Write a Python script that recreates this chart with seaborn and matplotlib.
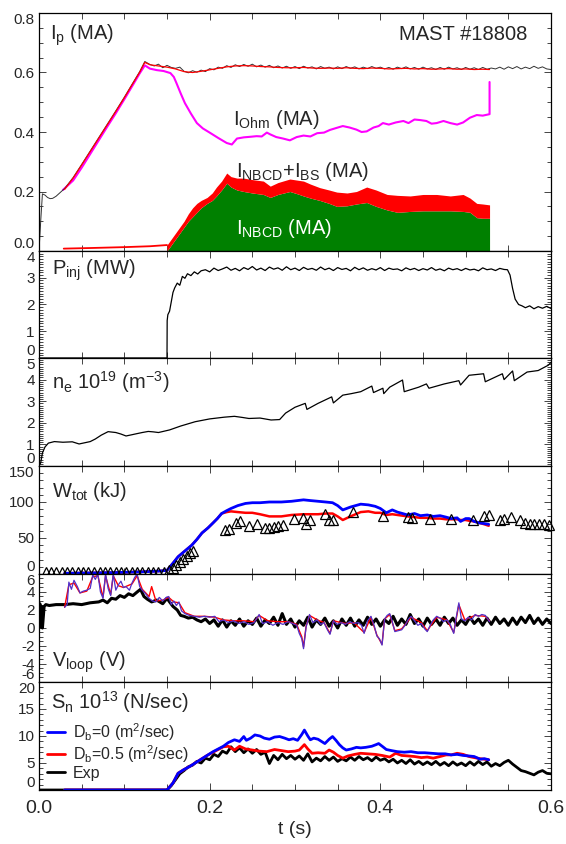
import numpy as np
import pandas as pd
import seaborn as sns
import matplotlib.pyplot as plt
from matplotlib.ticker import MultipleLocator, FormatStrFormatter

# ---- panel 1: plasma current and its parts (MA) ----
ip_exp_t = [0.000, 0.002, 0.004, 0.007, 0.010, 0.013, 0.016, 0.020, 0.025, 0.030,
            0.040, 0.050, 0.060, 0.070, 0.080, 0.090, 0.100, 0.110, 0.118, 0.124,
            0.130, 0.135, 0.140, 0.145, 0.150, 0.155, 0.160, 0.165, 0.170, 0.175,
            0.180, 0.185, 0.190, 0.195, 0.200, 0.205, 0.210, 0.215, 0.220, 0.225,
            0.230, 0.235, 0.240, 0.245, 0.250, 0.255, 0.260, 0.265, 0.270, 0.275,
            0.280, 0.285, 0.290, 0.295, 0.300, 0.305, 0.310, 0.315, 0.320, 0.325,
            0.330, 0.335, 0.340, 0.345, 0.350, 0.355, 0.360, 0.365, 0.370, 0.375,
            0.380, 0.385, 0.390, 0.395, 0.400, 0.405, 0.410, 0.415, 0.420, 0.425,
            0.430, 0.435, 0.440, 0.445, 0.450, 0.455, 0.460, 0.465, 0.470, 0.475,
            0.480, 0.485, 0.490, 0.495, 0.500, 0.505, 0.510, 0.515, 0.520, 0.525,
            0.530, 0.535, 0.540, 0.545, 0.550, 0.555, 0.560, 0.565, 0.570, 0.575,
            0.580, 0.585, 0.590, 0.595, 0.600]
ip_exp = [0.000, 0.100, 0.192, 0.188, 0.180, 0.176, 0.177, 0.184, 0.197, 0.210,
          0.247, 0.291, 0.336, 0.381, 0.426, 0.471, 0.517, 0.565, 0.603, 0.637,
          0.627, 0.622, 0.628, 0.616, 0.624, 0.617, 0.614, 0.618, 0.604, 0.599,
          0.606, 0.601, 0.608, 0.603, 0.613, 0.609, 0.618, 0.614, 0.623, 0.617,
          0.626, 0.620, 0.627, 0.621, 0.628, 0.619, 0.625, 0.618, 0.624, 0.616,
          0.622, 0.615, 0.621, 0.614, 0.620, 0.613, 0.621, 0.615, 0.619, 0.612,
          0.620, 0.614, 0.618, 0.612, 0.619, 0.613, 0.620, 0.614, 0.619, 0.612,
          0.618, 0.613, 0.620, 0.614, 0.618, 0.612, 0.617, 0.611, 0.618, 0.613,
          0.619, 0.612, 0.617, 0.611, 0.618, 0.612, 0.616, 0.610, 0.617, 0.611,
          0.618, 0.612, 0.616, 0.610, 0.617, 0.611, 0.616, 0.610, 0.617, 0.611,
          0.615, 0.612, 0.618, 0.611, 0.619, 0.613, 0.620, 0.612, 0.618, 0.613,
          0.621, 0.614, 0.619, 0.612, 0.610]

ip_sim_t = [0.030, 0.040, 0.050, 0.060, 0.070, 0.080, 0.090, 0.100, 0.110, 0.118,
            0.124, 0.130, 0.140, 0.150, 0.160, 0.170, 0.180, 0.190, 0.200, 0.210,
            0.220, 0.230, 0.240, 0.250, 0.260, 0.270, 0.280, 0.290, 0.300, 0.310,
            0.320, 0.330, 0.340, 0.350, 0.360, 0.370, 0.380, 0.390, 0.400, 0.410,
            0.420, 0.430, 0.440, 0.450, 0.460, 0.470, 0.480, 0.490, 0.500, 0.510,
            0.520, 0.528]
ip_sim = [0.207, 0.245, 0.289, 0.334, 0.379, 0.424, 0.469, 0.515, 0.563, 0.601,
          0.634, 0.626, 0.622, 0.618, 0.612, 0.603, 0.600, 0.604, 0.609, 0.614,
          0.619, 0.622, 0.623, 0.622, 0.620, 0.619, 0.617, 0.616, 0.616, 0.617,
          0.615, 0.614, 0.615, 0.614, 0.616, 0.614, 0.613, 0.615, 0.614, 0.612,
          0.613, 0.614, 0.612, 0.613, 0.611, 0.612, 0.613, 0.611, 0.612, 0.610,
          0.611, 0.610]

iohm_t = [0.028, 0.040, 0.050, 0.060, 0.070, 0.080, 0.090, 0.100, 0.110, 0.118,
          0.124, 0.130, 0.138, 0.146, 0.154, 0.158, 0.161, 0.166, 0.171, 0.178,
          0.185, 0.192, 0.200, 0.210, 0.220, 0.226, 0.232, 0.240, 0.248, 0.255,
          0.261, 0.267, 0.271, 0.278, 0.286, 0.294, 0.302, 0.310, 0.318, 0.326,
          0.334, 0.341, 0.349, 0.356, 0.364, 0.372, 0.378, 0.384, 0.392, 0.398,
          0.403, 0.410, 0.418, 0.427, 0.433, 0.440, 0.447, 0.454, 0.460, 0.466,
          0.474, 0.482, 0.490, 0.497, 0.505, 0.513, 0.520, 0.528, 0.528]
iohm = [0.205, 0.237, 0.280, 0.326, 0.372, 0.418, 0.463, 0.510, 0.558, 0.597,
        0.624, 0.613, 0.608, 0.605, 0.598, 0.585, 0.565, 0.530, 0.497, 0.462,
        0.430, 0.412, 0.398, 0.380, 0.363, 0.358, 0.378, 0.382, 0.384, 0.386,
        0.385, 0.398, 0.392, 0.383, 0.378, 0.372, 0.383, 0.388, 0.385, 0.396,
        0.398, 0.407, 0.414, 0.420, 0.415, 0.408, 0.400, 0.402, 0.415, 0.420,
        0.430, 0.425, 0.432, 0.437, 0.430, 0.442, 0.440, 0.437, 0.428, 0.430,
        0.437, 0.430, 0.425, 0.432, 0.448, 0.457, 0.455, 0.460, 0.568]

# driven current before NBI: thin red line
ibs_pre_t = [0.029, 0.060, 0.100, 0.130, 0.150]
ibs_pre = [0.008, 0.010, 0.013, 0.016, 0.020]

nb_t = [0.150, 0.155, 0.160, 0.165, 0.170, 0.175, 0.180, 0.185, 0.190, 0.197,
        0.203, 0.208, 0.214, 0.220, 0.225, 0.232, 0.240, 0.250, 0.263, 0.271,
        0.280, 0.294, 0.303, 0.310, 0.318, 0.329, 0.340, 0.349, 0.361, 0.372,
        0.384, 0.395, 0.408, 0.420, 0.435, 0.450, 0.466, 0.482, 0.497, 0.505,
        0.513, 0.520, 0.528]
inb_bs = [0.020, 0.040, 0.060, 0.080, 0.100, 0.125, 0.145, 0.160, 0.170, 0.180,
          0.195, 0.215, 0.235, 0.262, 0.250, 0.245, 0.245, 0.240, 0.235, 0.218,
          0.230, 0.242, 0.238, 0.235, 0.225, 0.213, 0.205, 0.198, 0.195, 0.200,
          0.215, 0.205, 0.190, 0.187, 0.185, 0.190, 0.190, 0.185, 0.190, 0.178,
          0.160, 0.158, 0.155]
inbcd = [0.000, 0.020, 0.040, 0.060, 0.080, 0.100, 0.115, 0.130, 0.145, 0.160,
         0.170, 0.185, 0.205, 0.228, 0.215, 0.205, 0.200, 0.195, 0.190, 0.180,
         0.190, 0.200, 0.192, 0.185, 0.178, 0.170, 0.160, 0.150, 0.152, 0.158,
         0.163, 0.150, 0.138, 0.130, 0.133, 0.135, 0.135, 0.135, 0.133, 0.130,
         0.112, 0.110, 0.110]

# ---- panel 2: injected NBI power (MW) ----
pinj_t = [0.000, 0.150, 0.1502, 0.151, 0.153, 0.155, 0.157, 0.159, 0.162, 0.165,
          0.168, 0.171, 0.174, 0.178, 0.182, 0.186, 0.190,
          0.195, 0.200, 0.205, 0.210, 0.215, 0.220, 0.225, 0.230, 0.235, 0.240,
          0.245, 0.250, 0.255, 0.260, 0.265, 0.270, 0.275, 0.280, 0.285, 0.290,
          0.295, 0.300, 0.305, 0.310, 0.315, 0.320, 0.325, 0.330, 0.335, 0.340,
          0.345, 0.350, 0.355, 0.360, 0.365, 0.370, 0.375, 0.380, 0.385, 0.390,
          0.395, 0.400, 0.405, 0.410, 0.415, 0.420, 0.425, 0.430, 0.435, 0.440,
          0.445, 0.450, 0.455, 0.460, 0.465, 0.470, 0.475, 0.480, 0.485, 0.490,
          0.495, 0.500, 0.505, 0.510, 0.515, 0.520, 0.525, 0.530, 0.535, 0.540,
          0.545,
          0.549, 0.552, 0.555, 0.558, 0.562, 0.566, 0.570, 0.575, 0.580, 0.585,
          0.590, 0.595, 0.600]
pinj = [0.00, 0.00, 1.40, 1.62, 1.75, 2.10, 2.45, 2.62, 2.80, 2.72,
        3.05, 2.98, 3.15, 3.08, 3.22, 3.14, 3.26,
        3.30, 3.22, 3.36, 3.27, 3.33, 3.40, 3.28, 3.35, 3.26, 3.38,
        3.31, 3.42, 3.29, 3.36, 3.27, 3.40, 3.32, 3.37, 3.28, 3.41,
        3.30, 3.36, 3.27, 3.39, 3.31, 3.35, 3.28, 3.40, 3.30, 3.36,
        3.27, 3.38, 3.31, 3.35, 3.26, 3.39, 3.30, 3.37, 3.28, 3.34,
        3.29, 3.38, 3.27, 3.36, 3.31, 3.33, 3.26, 3.37, 3.30, 3.35,
        3.27, 3.34, 3.29, 3.38, 3.28, 3.33, 3.26, 3.36, 3.30, 3.34,
        3.27, 3.35, 3.29, 3.32, 3.26, 3.37, 3.30, 3.33, 3.27, 3.35,
        3.31,
        3.30, 3.10, 2.60, 2.20, 2.00, 1.95, 1.88, 1.95, 1.84, 1.92,
        1.86, 1.93, 1.85]

# ---- panel 3: line averaged density (1e19 m^-3) ----
ne_t = [0.000, 0.002, 0.004, 0.007, 0.011, 0.018, 0.028, 0.039, 0.047, 0.060,
        0.066, 0.073, 0.081, 0.090, 0.096, 0.102, 0.108, 0.115, 0.121, 0.128,
        0.134, 0.140, 0.153, 0.166, 0.183, 0.200, 0.217, 0.229, 0.238, 0.246,
        0.259, 0.272, 0.282, 0.289, 0.300, 0.312, 0.314, 0.327, 0.343, 0.345,
        0.356, 0.366, 0.377, 0.390, 0.392, 0.403, 0.404, 0.411, 0.426, 0.428,
        0.445, 0.454, 0.457, 0.475, 0.492, 0.494, 0.504, 0.521, 0.523, 0.543,
        0.545, 0.555, 0.557, 0.572, 0.585, 0.597, 0.600]
ne = [0.00, 0.15, 0.60, 0.88, 1.06, 1.13, 1.10, 1.12, 1.02, 1.13,
      1.25, 1.43, 1.59, 1.55, 1.48, 1.39, 1.44, 1.50, 1.55, 1.60,
      1.58, 1.55, 1.67, 1.85, 2.05, 2.18, 2.26, 2.30, 2.25, 2.20,
      2.22, 2.13, 2.15, 2.45, 2.72, 2.90, 2.62, 2.90, 3.20, 2.92,
      3.28, 3.35, 3.44, 3.70, 3.40, 3.60, 3.35, 3.65, 3.98, 3.44,
      3.65, 3.80, 3.60, 3.80, 3.95, 3.75, 4.20, 4.27, 3.90, 4.27,
      4.00, 4.40, 3.95, 4.35, 4.42, 4.67, 4.80]

# ---- panel 4: stored energy (kJ) ----
w_t = [0.030, 0.060, 0.090, 0.120, 0.140, 0.150, 0.157, 0.163, 0.171, 0.179,
       0.185, 0.191, 0.198, 0.204, 0.209, 0.214, 0.220, 0.225, 0.233, 0.242,
       0.250, 0.259, 0.270, 0.284, 0.296, 0.310, 0.318, 0.327, 0.336, 0.344,
       0.350, 0.356, 0.365, 0.377, 0.386, 0.394, 0.400, 0.407, 0.414, 0.420,
       0.432, 0.440, 0.447, 0.455, 0.462, 0.470, 0.477, 0.483, 0.490, 0.494,
       0.500, 0.504, 0.510, 0.516, 0.522, 0.527]
w_db0 = [1, 1.5, 2, 3, 4, 5, 15, 24, 32, 40,
         48, 57, 64, 71, 77, 84, 88, 91, 95, 98,
         99, 99, 100, 100, 101, 103, 102, 101, 100, 99,
         95, 89, 93, 97, 96, 94, 91, 85, 89, 86,
         82, 84, 81, 82, 80, 81, 79, 77, 78, 73,
         77, 77, 73, 71, 70, 69]
w_db05 = [1, 1.5, 2, 3, 4, 5, 15, 24, 32, 40,
          48, 57, 64, 71, 77, 84, 86, 87, 86, 85,
          85, 83, 80, 80, 82, 83, 83, 83, 84, 84,
          80, 75, 80, 86, 87, 85, 85, 82, 83, 82,
          80, 79, 78, 78, 77, 77, 76, 76, 76, 75,
          75, 74, 73, 71, 69, 67]
w_exp_t = [0.008, 0.014, 0.020, 0.027, 0.033, 0.039, 0.046, 0.052, 0.058, 0.064,
           0.071, 0.077, 0.083, 0.090, 0.096, 0.102, 0.109, 0.115, 0.121, 0.128,
           0.134, 0.140, 0.147,
           0.152, 0.157, 0.161, 0.165, 0.169, 0.173, 0.177, 0.181,
           0.218, 0.223, 0.231, 0.236, 0.246, 0.256, 0.265, 0.270, 0.275, 0.280,
           0.286, 0.299, 0.309, 0.313, 0.318, 0.335, 0.340, 0.345, 0.368, 0.403,
           0.432, 0.437, 0.458, 0.483, 0.509, 0.522, 0.527, 0.540, 0.545, 0.553,
           0.564, 0.569, 0.575, 0.580, 0.586, 0.592, 0.598]
w_exp = [3, 3, 3, 3, 3, 3, 3, 3, 3, 3,
         3, 3, 3, 3, 3, 3, 3, 3, 3, 3,
         3, 3, 3,
         5, 9, 13, 17, 21, 25, 29, 32,
         61, 63, 71, 73, 67, 69, 64, 64, 65, 66,
         68, 77, 78, 69, 75, 83, 75, 75, 86, 80,
         79, 78, 76, 76, 75, 80, 82, 75, 76, 79,
         75, 71, 69, 69, 70, 69, 68]

# ---- panel 5: loop voltage (V) ----
vl_exp_t = [0.000, 0.001, 0.002, 0.003, 0.004, 0.006, 0.008, 0.012, 0.020, 0.030,
            0.040, 0.050, 0.060, 0.070, 0.075, 0.080, 0.085, 0.090, 0.095, 0.100,
            0.105, 0.110, 0.115, 0.119, 0.123, 0.127, 0.132, 0.138, 0.145, 0.150,
            0.153, 0.157, 0.162, 0.166, 0.170, 0.175, 0.180, 0.185, 0.190, 0.195,
            0.200,
            0.205, 0.210, 0.215, 0.220, 0.225, 0.230, 0.235, 0.240, 0.245, 0.250,
            0.255, 0.260, 0.265, 0.270, 0.275, 0.280, 0.285, 0.290, 0.295, 0.300,
            0.305, 0.310, 0.315, 0.320, 0.325, 0.330, 0.335, 0.340, 0.345, 0.350,
            0.355, 0.360, 0.365, 0.370, 0.375, 0.380, 0.385, 0.390, 0.395, 0.400,
            0.405, 0.410, 0.415, 0.420, 0.425, 0.430, 0.435, 0.440, 0.445, 0.450,
            0.455, 0.460, 0.465, 0.470, 0.475, 0.480, 0.485, 0.490, 0.495, 0.500,
            0.505, 0.510, 0.515, 0.520, 0.525, 0.530, 0.535, 0.540, 0.545, 0.550,
            0.555, 0.560, 0.565, 0.570, 0.575, 0.580, 0.585, 0.590, 0.595, 0.600]
vl_exp = [0.5, 2.7, 0.1, 2.4, 0.0, 2.4, 2.6, 2.5, 2.6, 2.6,
          2.7, 2.6, 2.8, 2.9, 3.1, 2.8, 3.3, 3.2, 3.6, 3.4,
          3.8, 3.6, 4.0, 4.3, 3.5, 3.2, 2.9, 3.1, 2.7, 3.3,
          2.9, 2.4, 2.0, 1.4, 1.3, 1.1, 1.2, 0.9, 0.7, 1.0,
          0.5,
          0.9, 0.2, 0.9, 0.1, 0.8, 0.3, 1.0, 0.2, 0.8, 0.4,
          1.1, 0.2, 0.9, 0.5, 1.2, 0.3, 1.6, 0.4, 1.0, 0.1,
          0.8, 0.3, 1.2, 0.1, 0.9, 0.4, 1.1, 0.2, 0.8, 0.0,
          1.0, 0.3, 1.1, 0.2, 0.9, 0.3, 1.2, 0.4, 1.0, 0.2,
          0.9, 0.5, 1.3, 0.3, 1.0, 0.4, 1.5, 0.5, 1.0, 0.2,
          1.1, 0.4, 1.0, 0.3, 1.2, 0.5, 1.1, 0.3, 0.9, 0.4,
          1.2, 0.5, 1.0, 0.3, 1.1, 0.4, 1.2, 0.5, 1.0, 0.3,
          1.1, 0.4, 1.2, 0.6, 1.4, 0.5, 1.1, 0.4, 1.0, 0.5]

vl_db0_t = [0.030, 0.033, 0.035, 0.038, 0.041, 0.045, 0.048, 0.052, 0.056, 0.060,
            0.063, 0.066, 0.069, 0.072, 0.075, 0.078, 0.081, 0.084, 0.087, 0.090,
            0.093, 0.096, 0.099, 0.102, 0.106, 0.109, 0.112, 0.115, 0.118, 0.121,
            0.125, 0.129, 0.133, 0.137, 0.141, 0.145, 0.149, 0.152, 0.155, 0.158,
            0.161, 0.164, 0.167, 0.171, 0.176, 0.182, 0.188, 0.194, 0.200, 0.206,
            0.211, 0.216, 0.222, 0.228, 0.234, 0.240, 0.246, 0.252, 0.258, 0.262,
            0.268, 0.274, 0.280, 0.286, 0.292, 0.297, 0.302, 0.305, 0.308, 0.310,
            0.313, 0.317, 0.321, 0.326, 0.330, 0.334, 0.338, 0.341, 0.345, 0.349,
            0.354, 0.359, 0.364, 0.369, 0.374, 0.378, 0.381, 0.385, 0.389, 0.393,
            0.396, 0.399, 0.402, 0.405, 0.408, 0.411, 0.414, 0.417, 0.421, 0.425,
            0.429, 0.433, 0.436, 0.440, 0.444, 0.448, 0.452, 0.455, 0.459, 0.462,
            0.466, 0.470, 0.474, 0.478, 0.482, 0.486, 0.489, 0.492, 0.495, 0.499,
            0.503, 0.507, 0.511, 0.515, 0.519, 0.523, 0.526, 0.528]
vl_db0 = [2.3, 2.6, 5.1, 4.3, 5.3, 4.6, 3.9, 4.1, 4.2, 4.4,
          5.9, 5.4, 6.0, 4.0, 3.3, 6.0, 4.4, 3.6, 6.0, 4.2,
          4.8, 5.2, 4.5, 4.6, 4.2, 5.0, 5.6, 6.0, 4.6, 4.2,
          3.8, 3.3, 3.0, 2.9, 3.4, 3.0, 3.4, 3.5, 2.6, 3.0,
          2.5, 2.9, 1.9, 1.6, 1.4, 1.3, 1.2, 1.3, 1.2, 1.3,
          0.7, 0.9, 0.6, 0.8, 0.5, 0.7, 0.4, 0.6, 1.5, 0.5,
          0.7, 0.3, 0.6, 0.4, 0.7, 0.5, 0.3, -0.6, -1.2, -2.3,
          0.1, 1.5, 0.6, 0.9, 0.4, 0.6, -0.2, -0.7, 0.8, 0.4,
          0.6, 0.4, 0.7, 0.5, 0.6, 0.3, -0.6, 0.8, 1.3, 0.2,
          -0.9, -1.2, -1.9, 1.0, 1.4, 1.6, 0.7, -0.4, -0.3, -0.2,
          0.3, 1.0, 1.3, 0.8, 0.3, 0.5, -0.1, -0.4, 0.4, 0.9,
          1.3, 1.1, 0.7, 0.9, 0.4, -0.6, 1.2, 2.8, 1.0, 0.8,
          1.2, 0.9, 1.5, 1.3, 1.5, 1.4, 1.0, 0.7]

vl_db05_t = [0.030, 0.035, 0.041, 0.048, 0.056, 0.063, 0.069, 0.075, 0.078, 0.084,
             0.087, 0.093, 0.099, 0.109, 0.115, 0.121, 0.129, 0.132, 0.137, 0.145,
             0.152, 0.158, 0.164, 0.171, 0.182, 0.194, 0.206, 0.216, 0.228, 0.240,
             0.252, 0.258, 0.268, 0.280, 0.292, 0.302, 0.308, 0.310, 0.313, 0.317,
             0.326, 0.334, 0.341, 0.345, 0.359, 0.369, 0.381, 0.389, 0.396, 0.402,
             0.405, 0.411, 0.417, 0.425, 0.436, 0.448, 0.455, 0.466, 0.478, 0.486,
             0.492, 0.499, 0.511, 0.523, 0.528]
vl_db05 = [2.3, 4.8, 5.0, 3.9, 4.1, 5.7, 5.8, 3.4, 5.8, 3.7,
           5.8, 4.7, 4.5, 4.9, 5.8, 4.3, 3.5, 4.6, 3.0, 3.1,
           3.4, 2.9, 2.8, 1.7, 1.3, 1.3, 1.2, 0.9, 0.8, 0.8,
           0.7, 1.4, 0.8, 0.7, 0.7, 0.4, -1.0, -2.1, 0.2, 1.4,
           0.9, 0.6, -0.6, 0.8, 0.5, 0.6, -0.5, 1.2, -0.8, -1.8,
           1.0, 1.5, -0.3, -0.1, 1.2, 0.6, -0.3, 1.2, 0.9, -0.5,
           2.6, 0.9, 1.4, 1.3, 0.8]

# ---- panel 6: neutron rate (1e13 N/sec) ----
sn_db0_t = [0.030, 0.150, 0.157, 0.163, 0.170, 0.176, 0.183, 0.190, 0.197, 0.204,
            0.210, 0.216, 0.222, 0.229, 0.235, 0.240, 0.243, 0.248, 0.253, 0.259,
            0.264, 0.270, 0.276, 0.282, 0.288, 0.293, 0.298, 0.303, 0.308, 0.311,
            0.315, 0.318, 0.322, 0.327, 0.331, 0.335, 0.340, 0.344, 0.348, 0.352,
            0.356, 0.360, 0.366, 0.372, 0.377, 0.383, 0.390, 0.395, 0.398, 0.403,
            0.407, 0.413, 0.420, 0.428, 0.436, 0.444, 0.452, 0.460, 0.468, 0.476,
            0.483, 0.490, 0.497, 0.504, 0.510, 0.517, 0.522, 0.527]
sn_db0 = [0.0, 0.0, 1.3, 3.1, 3.8, 4.3, 5.0, 5.7, 6.4, 7.1,
          7.6, 8.1, 8.8, 9.3, 9.0, 9.9, 9.2, 9.6, 10.2, 10.0,
          9.6, 9.4, 9.8, 9.9, 9.6, 9.3, 9.5, 9.2, 10.3, 11.1,
          10.0, 9.3, 9.6, 9.4, 9.0, 8.6, 9.4, 9.9, 9.2, 8.4,
          7.8, 7.4, 7.6, 7.9, 7.8, 7.9, 8.1, 8.4, 8.6, 8.0,
          7.5, 7.3, 7.1, 7.0, 7.1, 6.9, 6.9, 6.8, 6.7, 6.7,
          6.5, 6.6, 6.4, 6.3, 6.2, 5.7, 5.8, 5.6]
sn_db05_t = [0.030, 0.150, 0.157, 0.163, 0.170, 0.176, 0.183, 0.190, 0.197, 0.204,
             0.210, 0.216, 0.222, 0.229, 0.235, 0.242, 0.250, 0.258, 0.267, 0.276,
             0.284, 0.292, 0.300, 0.305, 0.311, 0.315, 0.320, 0.327, 0.335, 0.340,
             0.345, 0.350, 0.356, 0.362, 0.370, 0.377, 0.385, 0.394, 0.402, 0.411,
             0.418, 0.425, 0.433, 0.440, 0.448, 0.455, 0.462, 0.470, 0.477, 0.483,
             0.490, 0.497, 0.504, 0.510, 0.517, 0.522, 0.527]
sn_db05 = [0.0, 0.0, 1.3, 3.1, 3.8, 4.3, 5.0, 5.7, 6.4, 7.0,
           7.5, 8.0, 8.1, 7.4, 8.1, 7.6, 7.4, 7.2, 7.1, 7.5,
           7.3, 7.1, 7.2, 7.4, 8.4, 7.6, 6.8, 6.9, 6.8, 7.4,
           7.0, 6.4, 5.9, 6.3, 6.6, 6.8, 6.7, 6.6, 6.4, 6.1,
           6.8, 6.4, 6.3, 6.2, 6.0, 6.1, 5.9, 6.2, 6.5, 6.5,
           6.8, 6.6, 6.2, 6.0, 5.8, 5.7, 5.6]
sn_exp_t = [0.000, 0.150,
            0.155, 0.160, 0.165, 0.170, 0.175, 0.180, 0.185, 0.190, 0.195, 0.200,
            0.205, 0.210, 0.215, 0.220, 0.225, 0.230, 0.235, 0.240, 0.245, 0.250,
            0.255, 0.260, 0.265, 0.270, 0.275, 0.280, 0.285, 0.290, 0.295, 0.300,
            0.305, 0.310, 0.315, 0.320, 0.325, 0.330, 0.335, 0.340, 0.345, 0.350,
            0.355, 0.360, 0.365, 0.370, 0.375, 0.380, 0.385, 0.390, 0.395, 0.400,
            0.405, 0.410, 0.415, 0.420, 0.425, 0.430, 0.435, 0.440, 0.445, 0.450,
            0.455, 0.460, 0.465, 0.470, 0.475, 0.480, 0.485, 0.490, 0.495, 0.500,
            0.505, 0.510, 0.515, 0.520, 0.525, 0.530, 0.535, 0.540, 0.545, 0.550,
            0.555, 0.560, 0.565, 0.570, 0.575, 0.580, 0.585, 0.590, 0.595, 0.600]
sn_exp = [0.0, 0.0,
          0.8, 1.9, 3.0, 3.6, 4.3, 4.6, 5.3, 5.0, 5.9, 5.6,
          6.6, 6.2, 7.2, 6.8, 8.0, 7.1, 7.8, 6.9, 7.6, 6.8,
          7.5, 6.6, 7.0, 4.9, 6.4, 5.6, 6.6, 5.8, 6.4, 5.7,
          6.3, 5.5, 6.7, 5.2, 5.9, 5.4, 6.2, 5.5, 6.1, 5.3,
          5.8, 5.4, 6.1, 5.5, 6.2, 5.6, 6.0, 5.4, 6.1, 5.5,
          5.8, 5.2, 5.7, 5.0, 5.5, 4.9, 5.6, 4.8, 5.3, 4.7,
          5.2, 4.7, 5.3, 4.6, 5.1, 4.5, 5.2, 4.6, 5.0, 4.5,
          5.2, 4.6, 5.3, 4.7, 5.2, 4.4, 4.9, 4.5, 5.1, 5.5,
          4.8, 4.2, 3.6, 3.4, 3.1, 2.8, 3.3, 3.6, 3.1, 3.0]

# y axis setup per panel: limits, major step, minor step, label format
y_limits = [(0, 0.8), (0, 4), (0, 5), (0, 150), (-6, 6), (0, 20)]
y_major = [0.2, 1, 1, 50, 2, 5]
y_minor = [0.05, 0.1, 0.1, 10, 0.5, 1]
y_fmt = ['%.1f', '%d', '%d', '%d', '%d', '%d']

sns.set_style("ticks")
plt.rcParams['font.family'] = ['Liberation Sans', 'DejaVu Sans']
plt.rcParams['mathtext.fontset'] = 'custom'
plt.rcParams['mathtext.rm'] = 'Liberation Sans'
plt.rcParams['mathtext.it'] = 'Liberation Sans:italic'
plt.rcParams['mathtext.default'] = 'regular'

BLUE = '#0000ff'
RED = '#ff0000'
PURPLE = '#5230c8'


def trace(ax, t, v, color, lw, **kw):
    sns.lineplot(x=t, y=v, ax=ax, color=color, linewidth=lw,
                 estimator=None, sort=False, **kw)


fig = plt.figure(figsize=(5.66, 8.44), dpi=100)
gs = fig.add_gridspec(6, 1, height_ratios=[238, 107, 108, 108, 108, 108], hspace=0,
                      left=39 / 566, right=551 / 566, top=1 - 13 / 844, bottom=1 - 790 / 844)
axes = [fig.add_subplot(gs[i]) for i in range(6)]
ax_ip, ax_p, ax_ne, ax_w, ax_v, ax_sn = axes

# panel 1
ax_ip.fill_between(nb_t, 0, inbcd, color='#008000', lw=0)
ax_ip.fill_between(nb_t, inbcd, inb_bs, color=RED, lw=0)
trace(ax_ip, ibs_pre_t, ibs_pre, RED, 1.3)
trace(ax_ip, iohm_t, iohm, '#ff00ff', 1.5)
trace(ax_ip, ip_exp_t, ip_exp, '#333333', 0.7)
trace(ax_ip, ip_sim_t, ip_sim, RED, 0.9)
txt = dict(fontsize=14.5, va='baseline')
ax_ip.text(0.021, 0.887, r'$I_p$ (MA)', transform=ax_ip.transAxes, **txt)
ax_ip.text(0.953, 0.887, 'MAST #18808', transform=ax_ip.transAxes, ha='right', **txt)
ax_ip.text(0.379, 0.529, r'$I_{Ohm}$ (MA)', transform=ax_ip.transAxes, **txt)
ax_ip.text(0.385, 0.311, r'$I_{NBCD}$+$I_{BS}$ (MA)', transform=ax_ip.transAxes, **txt)
ax_ip.text(0.385, 0.071, r'$I_{NBCD}$ (MA)', transform=ax_ip.transAxes, color='white', **txt)

# panel 2
trace(ax_p, pinj_t, pinj, 'black', 0.9)
ax_p.text(0.025, 0.776, r'$P_{inj}$ (MW)', transform=ax_p.transAxes, **txt)

# panel 3
trace(ax_ne, ne_t, ne, 'black', 0.9)
ax_ne.text(0.025, 0.713, r'$n_e$ 10$^{19}$ (m$^{-3}$)', transform=ax_ne.transAxes, **txt)

# panel 4
trace(ax_w, w_t, w_db05, RED, 1.8)
trace(ax_w, w_t, w_db0, BLUE, 2.0)
sns.lineplot(x=w_exp_t, y=w_exp, ax=ax_w, estimator=None, sort=False, color='black',
             linestyle='none', marker='^', markersize=7, markerfacecolor='none',
             markeredgecolor='black', markeredgewidth=0.9, clip_on=False)
ax_w.text(0.025, 0.713, r'$W_{tot}$ (kJ)', transform=ax_w.transAxes, **txt)

# panel 5
trace(ax_v, vl_exp_t, vl_exp, 'black', 2.2)
trace(ax_v, vl_db05_t, vl_db05, RED, 1.0)
trace(ax_v, vl_db0_t, vl_db0, PURPLE, 0.9)
ax_v.text(0.025, 0.139, r'$V_{loop}$ (V)', transform=ax_v.transAxes, **txt)

# panel 6
trace(ax_sn, sn_exp_t, sn_exp, 'black', 2.0, label='Exp')
trace(ax_sn, sn_db05_t, sn_db05, RED, 2.0, label=r'D$_b$=0.5 (m$^2$/sec)')
trace(ax_sn, sn_db0_t, sn_db0, BLUE, 2.0, label=r'D$_b$=0 (m$^2$/sec)')
ax_sn.text(0.024, 0.75, r'$S_n$ 10$^{13}$ (N/sec)', transform=ax_sn.transAxes, **txt)
handles, labels = ax_sn.get_legend_handles_labels()
order = [2, 1, 0]
ax_sn.legend([handles[i] for i in order], [labels[i] for i in order],
             loc='upper left', bbox_to_anchor=(0.015, 0.64), frameon=False,
             fontsize=11.5, handlelength=1.15, handletextpad=0.5,
             labelspacing=0.05, borderpad=0, borderaxespad=0)

for i, ax in enumerate(axes):
    ax.set_xlim(0, 0.6)
    ax.set_ylim(*y_limits[i])
    lo, hi = y_limits[i]
    ax.set_yticks(list(np.arange(lo, hi + y_major[i] / 2, y_major[i])))
    ax.yaxis.set_minor_locator(MultipleLocator(y_minor[i]))
    ax.yaxis.set_major_formatter(FormatStrFormatter(y_fmt[i]))
    ax.set_xticks([0.0, 0.2, 0.4, 0.6])
    ax.xaxis.set_minor_locator(MultipleLocator(0.05))
    ax.xaxis.set_major_formatter(FormatStrFormatter('%.1f'))
    ax.tick_params(which='both', direction='in', top=True, right=True,
                   width=0.7, color='#444444', labelsize=11, pad=3)
    ax.tick_params(which='major', length=5)
    ax.tick_params(axis='y', which='minor', length=3)
    ax.tick_params(axis='x', which='minor', length=4)
    ax.set_xlabel('')
    ax.set_ylabel('')
    for s in ax.spines.values():
        s.set_linewidth(0.9)
        s.set_color('black')
    ylabels = ax.get_yticklabels()
    ylabels[0].set_va('bottom')
    ylabels[-1].set_va('top')
    if i < 5:
        ax.tick_params(axis='x', labelbottom=False)

ax_sn.tick_params(axis='x', labelsize=14, pad=7)
ax_sn.set_xlabel('t (s)', fontsize=14, labelpad=3)

fig.savefig('out.png', dpi=100)
